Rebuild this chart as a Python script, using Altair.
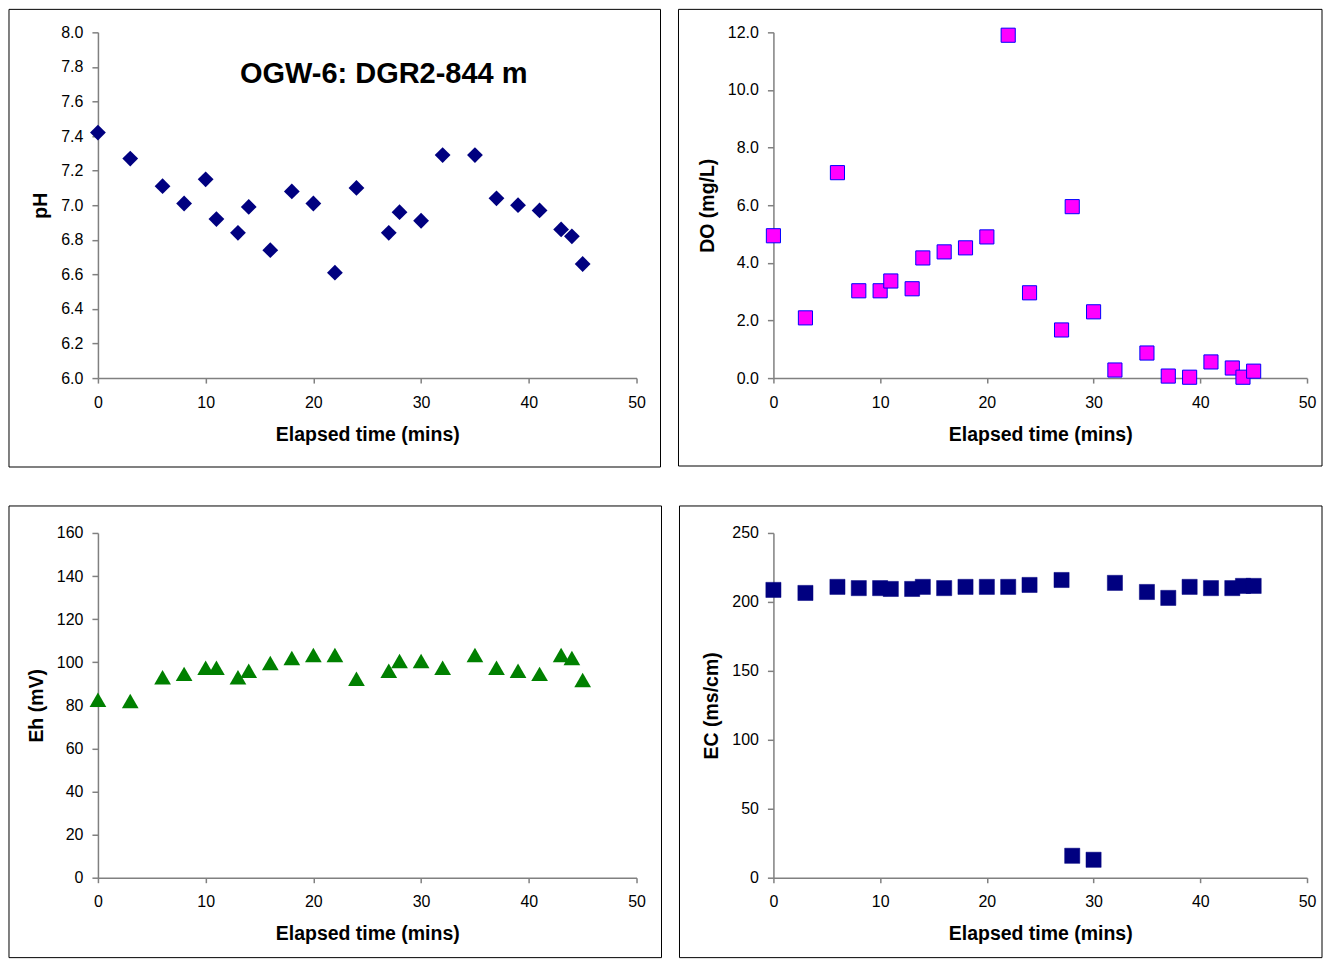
import altair as alt
import pandas as pd

# ---- data ----
time = [0, 3, 6, 8, 10, 11, 13, 14, 16, 18, 20, 22, 24, 27, 28, 30, 32, 35, 37, 39, 41, 43, 44, 45]
ph = [7.42, 7.27, 7.11, 7.01, 7.15, 6.92, 6.84, 6.99, 6.74, 7.08, 7.01, 6.61,
      7.10, 6.84, 6.96, 6.91, 7.29, 7.29, 7.04, 7.00, 6.97, 6.86, 6.82, 6.66]
do_mgl = [4.94, 2.09, 7.13, 3.03, 3.03, 3.37, 3.10, 4.17, 4.38, 4.52, 4.90, 11.9,
          2.96, 1.67, 5.95, 2.30, 0.28, 0.87, 0.07, 0.03, 0.56, 0.35, 0.03, 0.24]
eh = [82.6, 82, 93, 94.6, 97.4, 97.4, 93, 96, 99.7, 102, 103.4, 103.4,
      92.3, 96, 100.6, 100.6, 97.4, 103.4, 97.4, 96, 94.6, 103.4, 102, 91.8]
ec = [208.7, 206.5, 210.9, 210, 210, 209.4, 209.4, 210.9, 210, 210.9, 210.9, 210.9,
      212.3, 215.9, 15.9, 13, 213.8, 207.2, 202.9, 210.9, 210, 210, 211.6, 211.6]

title_text = "OGW-6: DGR2-844 m"
x_title = "Elapsed time (mins)"

df = pd.DataFrame({"t": time, "ph": ph, "do": do_mgl, "eh": eh, "ec": ec})

FONT = "Liberation Sans"
W1, W2 = 539, 534
H1, H2 = 346, 345


def panel(field, ytitle, ydomain, ystep, fmt, mark, w, h, border):
    xs = alt.X("t:Q", title=x_title,
               scale=alt.Scale(domain=[0, 50], nice=False, zero=False),
               axis=alt.Axis(values=list(range(0, 51, 10)), format="d", labelFlush=False))
    n = int(round((ydomain[1] - ydomain[0]) / ystep))
    yvals = [ydomain[0] + i * ystep for i in range(n + 1)]
    ys = alt.Y(f"{field}:Q", title=ytitle,
               scale=alt.Scale(domain=ydomain, nice=False, zero=False),
               axis=alt.Axis(values=yvals, format=fmt, labelFlush=False))
    pts = alt.Chart(df).mark_point(**mark).encode(x=xs, y=ys)
    l, r, t, b = border
    frame = alt.Chart(alt.Data(values=[{"a": 1}])).mark_rect(
        fill="white", fillOpacity=0, stroke="black", strokeWidth=1
    ).encode(x=alt.value(l), x2=alt.value(w + r), y=alt.value(t), y2=alt.value(h + b))
    return frame, pts


f1, p1 = panel("ph", "pH", [6.0, 8.0], 0.2, ".1f",
               dict(shape="diamond", filled=True, color="#000080", size=250, opacity=1),
               W1, H1, (-89, 24, -23, 89))
ttl = alt.Chart(alt.Data(values=[{"a": 1}])).mark_text(
    font=FONT, fontSize=29, fontWeight="bold", color="black", baseline="middle", align="center"
).encode(x=alt.value(286), y=alt.value(42), text=alt.value(title_text))
c1 = alt.layer(f1, p1, ttl).properties(width=W1, height=H1)

f2, p2 = panel("do", "DO (mg/L)", [0.0, 12.0], 2.0, ".1f",
               dict(shape="square", filled=True, fill="#FF00FF", stroke="#0000FF",
                    strokeWidth=1, size=200, opacity=1),
               W2, H1, (-95, 15, -23, 88))
c2 = alt.layer(f2, p2).properties(width=W2, height=H1)

f3, p3 = panel("eh", "Eh (mV)", [0, 160], 20, "d",
               dict(shape="triangle-up", filled=True, color="#008000", size=280, opacity=1),
               W1, H2, (-89, 25, -27, 80))
c3 = alt.layer(f3, p3).properties(width=W1, height=H2)

f4, p4 = panel("ec", "EC (ms/cm)", [0, 250], 50, "d",
               dict(shape="square", filled=True, fill="#000080", stroke="#000080",
                    strokeWidth=0.5, size=230, opacity=1),
               W2, H2, (-94, 15, -27, 80))
c4 = alt.layer(f4, p4).properties(width=W2, height=H2)

chart = alt.concat(
    c1, c2, c3, c4, columns=2, bounds="flush",
    spacing={"row": 155, "column": 137}
).properties(padding=0).resolve_scale(x="independent", y="independent").configure_view(
    stroke=None
).configure_axis(
    grid=False,
    domainColor="#808080", tickColor="#808080", domainWidth=1.5, tickWidth=1.5,
    tickSize=6,
    labelFont=FONT, labelFontSize=16, labelColor="black",
    titleFont=FONT, titleFontSize=19.5, titleFontWeight="bold", titleColor="black",
).configure_axisY(labelPadding=9, titlePadding=10).configure_axisX(
    labelPadding=11, titlePadding=15, tickSize=5
)

chart.save("out.html", embed_options={"renderer": "svg", "actions": False})
